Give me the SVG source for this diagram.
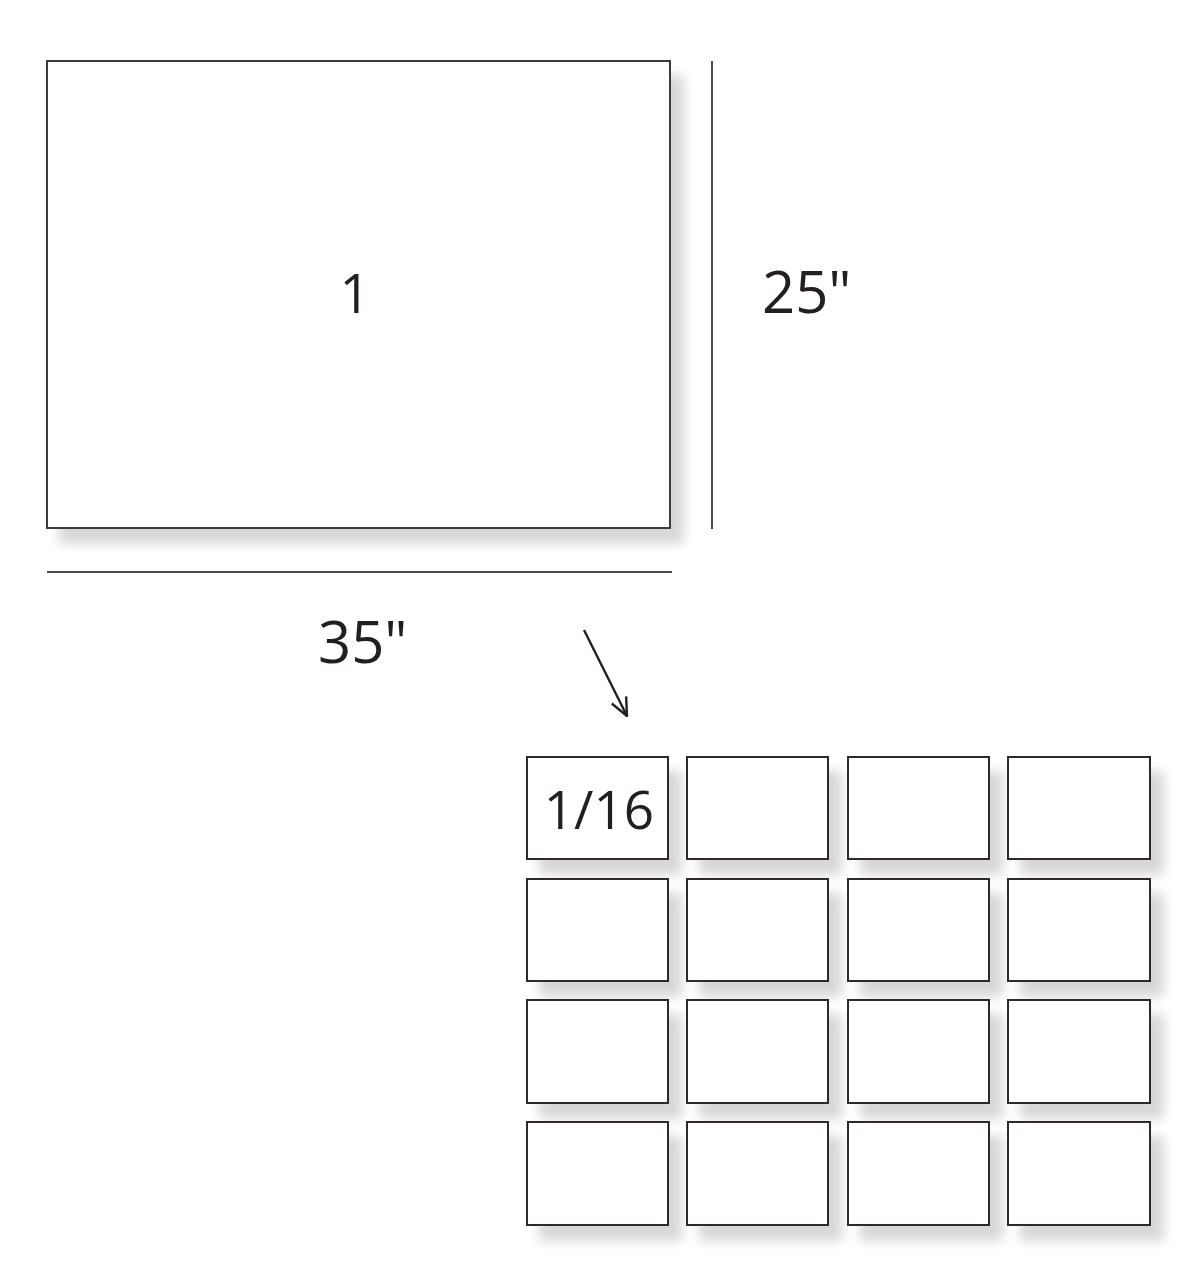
<svg xmlns="http://www.w3.org/2000/svg" width="1200" height="1281" viewBox="0 0 1200 1281">
<defs>
<filter id="sh" x="-20%" y="-20%" width="150%" height="150%">
<feGaussianBlur in="SourceAlpha" stdDeviation="6" result="b"/>
<feOffset in="b" dx="13" dy="15" result="o"/>
<feComponentTransfer in="o" result="s"><feFuncA type="linear" slope="0.16"/></feComponentTransfer>
<feMerge><feMergeNode in="s"/><feMergeNode in="SourceGraphic"/></feMerge>
</filter>
<marker id="ah" viewBox="0 0 20 20" refX="19" refY="10" markerWidth="20" markerHeight="20" markerUnits="userSpaceOnUse" orient="auto">
<path d="M1,2 L19,10 L1,18" fill="none" stroke="#231f20" stroke-width="2.4" stroke-linejoin="miter"/>
</marker>
<style>
.box{fill:#fff;stroke:#3a3a3a;stroke-width:2;filter:url(#sh)}
.cell{fill:#fff;stroke:#2e2a2b;stroke-width:2;filter:url(#sh)}
.dim{stroke:#4a4a4a;stroke-width:2;fill:none}
.t{font-family:"Open Sans","Noto Sans",sans-serif;fill:#231f20}
</style>
</defs>
<rect width="1200" height="1281" fill="#fff"/>
<g id="sheet">
<rect class="box" x="47" y="61" width="623" height="467"/>
<text class="t" x="355" y="313" font-size="54" text-anchor="middle">1</text>
</g>
<g id="dim-height">
<line class="dim" x1="712" y1="61" x2="712" y2="529"/>
<text class="t" x="762" y="313" font-size="58">25"</text>
</g>
<g id="dim-width">
<line class="dim" x1="47" y1="572" x2="672" y2="572"/>
<text class="t" x="318" y="663" font-size="58">35"</text>
</g>
<g id="connectors">
<line x1="584" y1="630" x2="627" y2="716" stroke="#231f20" stroke-width="2.4" marker-end="url(#ah)"/>
</g>
<g id="grid">
<g id="c11"><rect class="cell" x="527" y="757" width="141" height="102"/><text class="t" x="599" y="829" font-size="53" text-anchor="middle">1/16</text></g>
<g id="c12"><rect class="cell" x="687" y="757" width="141" height="102"/></g>
<g id="c13"><rect class="cell" x="848" y="757" width="141" height="102"/></g>
<g id="c14"><rect class="cell" x="1008" y="757" width="142" height="102"/></g>
<g id="c21"><rect class="cell" x="527" y="879" width="141" height="102"/></g>
<g id="c22"><rect class="cell" x="687" y="879" width="141" height="102"/></g>
<g id="c23"><rect class="cell" x="848" y="879" width="141" height="102"/></g>
<g id="c24"><rect class="cell" x="1008" y="879" width="142" height="102"/></g>
<g id="c31"><rect class="cell" x="527" y="1000" width="141" height="103"/></g>
<g id="c32"><rect class="cell" x="687" y="1000" width="141" height="103"/></g>
<g id="c33"><rect class="cell" x="848" y="1000" width="141" height="103"/></g>
<g id="c34"><rect class="cell" x="1008" y="1000" width="142" height="103"/></g>
<g id="c41"><rect class="cell" x="527" y="1122" width="141" height="103"/></g>
<g id="c42"><rect class="cell" x="687" y="1122" width="141" height="103"/></g>
<g id="c43"><rect class="cell" x="848" y="1122" width="141" height="103"/></g>
<g id="c44"><rect class="cell" x="1008" y="1122" width="142" height="103"/></g>
</g>
</svg>
